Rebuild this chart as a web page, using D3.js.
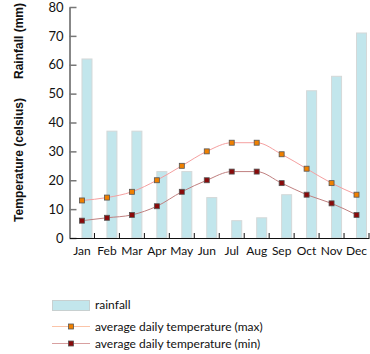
<!DOCTYPE html>
<head>
<meta charset="utf-8">
<script src="https://d3js.org/d3.v7.min.js"></script>
<style>
  body { margin: 0; background: #fff; }
  text { font-family: Lato, "Open Sans", sans-serif; fill: #111; }
  .ytitle { font-family: "Liberation Sans", Arial, sans-serif; font-weight: bold; font-size: 12px; }
</style>
</head>
<body>
<script>
var months = ["Jan","Feb","Mar","Apr","May","Jun","Jul","Aug","Sep","Oct","Nov","Dec"];
var rainfall = [62, 37, 37, 23, 23, 14, 6, 7, 15, 51, 56, 71];
var tempMax = [13, 14, 16, 20, 25, 30, 33, 33, 29, 24, 19, 15];
var tempMin = [6, 7, 8, 11, 16, 20, 23, 23, 19, 15, 12, 8];
var yTicks = [0, 10, 20, 30, 40, 50, 60, 70, 80];

var svg = d3.select("body").append("svg")
  .attr("width", 370)
  .attr("height", 354);

var plotLeft = 69.5, plotRight = 369, plotTop = 7, plotBottom = 238;

var x = d3.scaleBand().domain(months).range([plotLeft, plotRight]);
var y = d3.scaleLinear().domain([0, 80]).range([plotBottom, plotTop]);

var g = svg.append("g");

// bars start at band centre
g.selectAll(".bar").data(rainfall).enter().append("rect")
  .attr("x", function(d, i) { return x(months[i]) + x.bandwidth()/2; })
  .attr("y", function(d) { return y(d); })
  .attr("width", 10)
  .attr("height", function(d) { return plotBottom - y(d); })
  .attr("fill", "#c2e6ec")
  .attr("stroke", "#d4d8d8")
  .attr("stroke-width", 1);

// y axis
var yAxis = svg.append("g")
  .attr("transform", "translate(" + plotLeft + ",0)")
  .call(d3.axisLeft(y).tickValues(yTicks).tickSize(0).tickPadding(6));
yAxis.select(".domain").attr("stroke", "#111");
yAxis.selectAll("text").attr("font-size", "13px").attr("font-family", "Lato, sans-serif");
yAxis.selectAll(".tick").append("line")
  .attr("x1", 0).attr("x2", 7)
  .attr("stroke", "#777").attr("stroke-width", 1.5);

// x axis
var xAxis = svg.append("g")
  .attr("transform", "translate(0," + plotBottom + ")")
  .call(d3.axisBottom(x).tickSize(0).tickPadding(8));
xAxis.select(".domain").attr("stroke", "#111");
xAxis.selectAll("text").attr("font-size", "12px").attr("font-family", "Lato, sans-serif");
svg.append("g").selectAll("line").data(months).enter().append("line")
  .attr("x1", function(d) { return x(d) + x.bandwidth(); })
  .attr("x2", function(d) { return x(d) + x.bandwidth(); })
  .attr("y1", plotBottom).attr("y2", plotBottom - 5)
  .attr("stroke", "#111");

var line = d3.line()
  .x(function(d, i) { return x(months[i]) + x.bandwidth()/2; })
  .y(function(d) { return y(d); })
  .curve(d3.curveMonotoneX);

function series(data, lineColor, fill) {
  svg.append("path").datum(data)
    .attr("d", line)
    .attr("fill", "none")
    .attr("stroke", lineColor)
    .attr("stroke-width", 1);
  svg.append("g").selectAll("rect").data(data).enter().append("rect")
    .attr("x", function(d, i) { return x(months[i]) + x.bandwidth()/2 - 2.5; })
    .attr("y", function(d) { return y(d) - 2.5; })
    .attr("width", 5).attr("height", 5)
    .attr("fill", fill)
    .attr("stroke", "#555")
    .attr("stroke-width", 0.8);
}
series(tempMax, "#f5a0a0", "#f08000");
series(tempMin, "#c08080", "#8a0a0a");

// y titles
svg.append("text").attr("class", "ytitle")
  .attr("transform", "translate(23,41) rotate(-90)")
  .attr("text-anchor", "middle")
  .text("Rainfall (mm)");
svg.append("text").attr("class", "ytitle")
  .attr("transform", "translate(23,160) rotate(-90)")
  .attr("text-anchor", "middle")
  .text("Temperature (celsius)");

// legend
var leg = svg.append("g");
leg.append("rect").attr("x", 52.5).attr("y", 300.5).attr("width", 37).attr("height", 10)
  .attr("fill", "#c2e6ec").attr("stroke", "#c8d0d0");
leg.append("text").attr("x", 95).attr("y", 309).attr("font-size", "12px").text("rainfall");

var legItems = [
  {label: "average daily temperature (max)", line: "#fbc4a8", fill: "#f08000", yy: 326.5},
  {label: "average daily temperature (min)", line: "#d8a0a0", fill: "#8a0a0a", yy: 343.5}
];
legItems.forEach(function(d) {
  leg.append("line").attr("x1", 52).attr("x2", 90).attr("y1", d.yy).attr("y2", d.yy)
    .attr("stroke", d.line);
  leg.append("rect").attr("x", 68.5).attr("y", d.yy - 2.5).attr("width", 5).attr("height", 5)
    .attr("fill", d.fill).attr("stroke", "#555").attr("stroke-width", 0.8);
  leg.append("text").attr("x", 95).attr("y", d.yy + 4).attr("font-size", "12px").text(d.label);
});
</script>
</body>
